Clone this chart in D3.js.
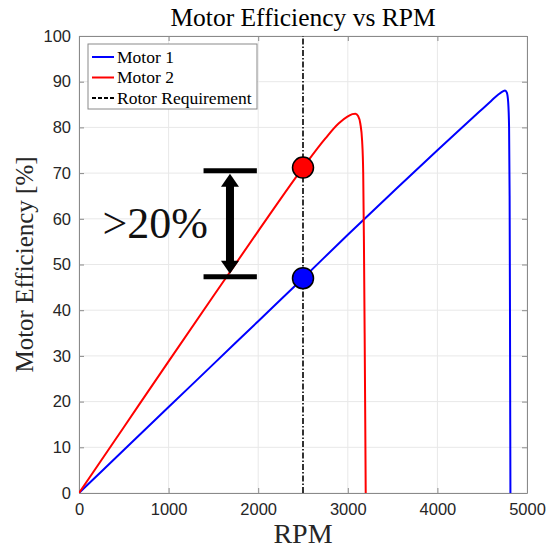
<!DOCTYPE html>
<html><head><meta charset="utf-8">
<script src="https://cdn.jsdelivr.net/npm/d3@7"></script>
<style>body{margin:0;background:#fff}svg{display:block}</style>
</head><body>
<script>
// ---- data ----
const motor1RPM = [0, 500, 1000, 1500, 2000, 2500, 3000, 3500, 4000, 4400, 4600, 4680, 4730, 4755, 4775, 4790, 4800, 4806, 4810, 4813, 4815];
const motor1Eff = [0, 9.4, 18.8, 28.2, 37.6, 47, 56.5, 65.8, 75, 82.2, 85.8, 87.2, 87.9, 88.1, 87.6, 85.5, 80, 65, 40, 15, 0];
const motor2RPM = [0, 500, 1000, 1500, 2000, 2500, 2750, 2900, 3000, 3050, 3085, 3115, 3140, 3160, 3172, 3180, 3188, 3195, 3200];
const motor2Eff = [0, 14.4, 28.8, 43.1, 57.3, 71.2, 77.6, 80.9, 82.4, 82.9, 83.0, 82.5, 80.8, 77, 70, 55, 35, 15, 0];
const requirementRPM = 2500;
const pointEff = [47, 71.2];
const xTicks = [0, 1000, 2000, 3000, 4000, 5000];
const yTicks = [0, 10, 20, 30, 40, 50, 60, 70, 80, 90, 100];
const legendLabels = ["Motor 1", "Motor 2", "Rotor Requirement"];
const annotationText = ">20%";

// ---- layout ----
const W = 548, H = 548;
const m = {l: 79, r: 21, t: 36, b: 55};
const svg = d3.select("body").append("svg").attr("width", W).attr("height", H);
const x = d3.scaleLinear().domain([0, 5000]).range([m.l, W - m.r]);
const y = d3.scaleLinear().domain([0, 100]).range([H - m.b, m.t]);
const serif = "'Liberation Serif', 'Times New Roman', serif";
const sans = "'Liberation Sans', Arial, sans-serif";
const axisCol = "#8a8a8a";

// grid
const g = svg.append("g");
g.selectAll(".gx").data(xTicks).join("line")
  .attr("x1", d => x(d)).attr("x2", d => x(d)).attr("y1", y(0)).attr("y2", y(100))
  .attr("stroke", "#e8e8e8").attr("stroke-width", 1);
g.selectAll(".gy").data(yTicks).join("line")
  .attr("y1", d => y(d)).attr("y2", d => y(d)).attr("x1", x(0)).attr("x2", x(5000))
  .attr("stroke", "#e8e8e8").attr("stroke-width", 1);

// axes with inward ticks
const fmt = d3.format("d");
const axB = d3.axisBottom(x).tickValues(xTicks).tickFormat(fmt).tickSizeInner(-5).tickSizeOuter(0).tickPadding(10);
const axL = d3.axisLeft(y).tickValues(yTicks).tickFormat(fmt).tickSizeInner(-5).tickSizeOuter(0).tickPadding(8);
const axT = d3.axisTop(x).tickValues(xTicks).tickSizeInner(-5).tickSizeOuter(0).tickFormat("");
const axR = d3.axisRight(y).tickValues(yTicks).tickSizeInner(-5).tickSizeOuter(0).tickFormat("");
function style(sel){
  sel.select(".domain").attr("stroke", axisCol);
  sel.selectAll(".tick line").attr("stroke", axisCol);
  sel.selectAll(".tick text").attr("fill", "#262626").style("font-family", sans).style("font-size", "16.5px");
}
svg.append("g").attr("transform", `translate(0,${y(0)})`).call(axB).call(style);
svg.append("g").attr("transform", `translate(${x(0)},0)`).call(axL).call(style);
svg.append("g").attr("transform", `translate(0,${y(100)})`).call(axT).call(style);
svg.append("g").attr("transform", `translate(${x(5000)},0)`).call(axR).call(style);

// curves
const line = d3.line().x(d => x(d[0])).y(d => y(d[1])).curve(d3.curveMonotoneX);
svg.append("defs").append("clipPath").attr("id", "clip").append("rect")
  .attr("x", x(0)).attr("y", y(100)).attr("width", x(5000) - x(0)).attr("height", y(0) - y(100));
const plot = svg.append("g").attr("clip-path", "url(#clip)");
plot.append("path").datum(motor1RPM.map((r, i) => [r, motor1Eff[i]]))
  .attr("d", line).attr("fill", "none").attr("stroke", "#0000ff").attr("stroke-width", 2);
plot.append("path").datum(motor2RPM.map((r, i) => [r, motor2Eff[i]]))
  .attr("d", line).attr("fill", "none").attr("stroke", "#ff0000").attr("stroke-width", 2);
plot.append("line").attr("x1", x(requirementRPM)).attr("x2", x(requirementRPM))
  .attr("y1", y(0)).attr("y2", y(100)).attr("stroke", "#000").attr("stroke-width", 1.6)
  .attr("stroke-dasharray", "6,2,1.5,2");

// points
svg.selectAll(".pt").data(pointEff).join("circle")
  .attr("cx", x(requirementRPM)).attr("cy", d => y(d)).attr("r", 10.5)
  .attr("fill", (d, i) => i === 0 ? "#0000ff" : "#ff0000").attr("stroke", "#000").attr("stroke-width", 1.5);

// annotation: bracket arrow
const ax0 = 1390, ax1 = 1985, axMid = 1685;
const yTop = 70.5, yBot = 47.3;
const ann = svg.append("g");
[yTop, yBot].forEach(v => ann.append("line").attr("x1", x(ax0)).attr("x2", x(ax1))
  .attr("y1", y(v)).attr("y2", y(v)).attr("stroke", "#000").attr("stroke-width", 5));
const cx = x(axMid), t = y(yTop) + 3, b = y(yBot) - 3;
ann.append("rect").attr("x", cx - 4).attr("y", t + 10).attr("width", 8).attr("height", b - t - 20).attr("fill", "#000");
ann.append("path").attr("d", `M${cx},${t} L${cx - 9},${t + 13} L${cx + 9},${t + 13} Z`).attr("fill", "#000");
ann.append("path").attr("d", `M${cx},${b} L${cx - 9},${b - 13} L${cx + 9},${b - 13} Z`).attr("fill", "#000");
svg.append("text").attr("x", 208).attr("y", y(59) + 15).attr("text-anchor", "end")
  .style("font-family", serif).style("font-size", "44px").attr("fill", "#111").text(annotationText);

// legend
const lg = svg.append("g");
lg.append("rect").attr("x", 88).attr("y", 44).attr("width", 169).attr("height", 65)
  .attr("fill", "#fff").attr("stroke", axisCol).attr("stroke-width", 1);
const lstyles = [{c: "#0000ff", d: null}, {c: "#ff0000", d: null}, {c: "#000", d: "4,2"}];
legendLabels.forEach((lab, i) => {
  const yy = 57 + i * 20.5;
  lg.append("line").attr("x1", 92).attr("x2", 114).attr("y1", yy).attr("y2", yy)
    .attr("stroke", lstyles[i].c).attr("stroke-width", 2).attr("stroke-dasharray", lstyles[i].d);
  lg.append("text").attr("x", 117).attr("y", yy + 5.5).style("font-family", serif).style("font-size", "17.5px")
    .attr("fill", "#000").text(lab);
});

// titles
svg.append("text").attr("x", (x(0) + x(5000)) / 2).attr("y", 26).attr("text-anchor", "middle")
  .style("font-family", serif).style("font-size", "25.5px").attr("fill", "#000").text("Motor Efficiency vs RPM");
svg.append("text").attr("x", (x(0) + x(5000)) / 2).attr("y", 543).attr("text-anchor", "middle")
  .style("font-family", serif).style("font-size", "28px").attr("fill", "#262626").text("RPM");
svg.append("text").attr("transform", `translate(33,${(y(0) + y(100)) / 2}) rotate(-90)`).attr("text-anchor", "middle")
  .style("font-family", serif).style("font-size", "25px").attr("fill", "#262626").text("Motor Efficiency [%]");
</script>
</body></html>
